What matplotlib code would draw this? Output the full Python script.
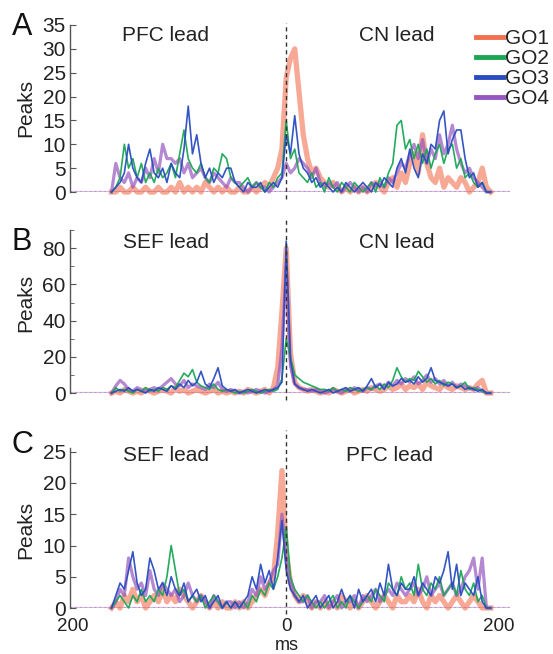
import numpy as np
import matplotlib
matplotlib.use("Agg")
import matplotlib.pyplot as plt

plt.rcParams['font.family'] = ['Liberation Sans', 'DejaVu Sans']

# bin centres (ms)
lags = np.arange(-164, 193, 4)

series_names = ["GO1", "GO2", "GO3", "GO4"]
colors = ["#f2704f", "#1aa655", "#2a4cc0", "#9656c0"]

# Panel A: PFC lead / CN lead
A_GO1 = [0,0,1,0,0,1,0,0,1,0, 0,1,0,0,1,0,2,0,1,0, 1,0,2,1,0,1,0,1,0,0,
         1,0,0,1,0,1,2,1,3,5, 9,24,28,30,21,12,7,4,5,3, 2,1,2,1,0,1,0,1,0,1,
         0,1,2,1,0,2,3,1,4,2, 6,8,4,12,6,3,2,5,1,3, 2,1,3,2,0,1,2,5,1,0]
A_GO2 = [0,1,3,10,5,7,3,6,2,4, 2,5,3,4,6,3,8,13,7,5, 4,6,3,2,5,4,8,7,3,2,
         1,2,3,1,2,1,0,2,1,3, 4,15,7,9,4,3,2,4,1,2, 0,3,1,0,2,1,0,2,1,0,
         1,2,0,3,1,4,6,14,15,9, 11,7,10,6,9,5,8,10,6,9, 10,5,7,3,4,2,1,2,0,0]
A_GO3 = [0,1,2,4,10,5,3,2,6,9, 4,3,5,2,6,4,3,9,18,8, 12,6,3,5,2,4,3,5,5,2,
         1,0,2,1,1,2,0,1,2,1, 3,12,8,16,8,5,4,2,3,1, 2,1,0,1,0,2,1,0,1,2,
         1,0,2,1,3,2,1,5,7,4, 9,5,3,8,6,10,9,15,17,8, 11,13,13,7,3,4,1,2,0,0]
A_GO4 = [0,6,3,2,4,1,3,2,5,3, 7,4,10,7,7,6,7,4,6,3, 4,5,3,2,4,3,2,1,3,2,
         2,1,0,1,2,1,1,0,1,2, 3,6,4,5,7,6,5,3,5,2, 1,2,1,2,0,1,2,1,0,1,
         0,2,1,2,1,3,2,4,6,5, 8,10,7,11,6,9,7,12,8,10, 14,9,6,4,5,3,2,1,0,0]

# Panel B: SEF lead / CN lead
B_GO1 = [0,1,0,2,1,0,1,0,2,1, 0,1,2,1,0,3,1,2,0,1, 2,1,0,1,2,0,1,0,1,0,
         1,0,2,1,0,1,2,0,3,14, 45,80,22,6,3,2,1,2,1,0, 1,0,2,1,0,1,2,0,1,2,
         1,3,2,1,2,4,2,3,5,2, 4,3,5,2,6,4,3,2,5,3, 2,4,3,2,3,2,5,7,0,0]
B_GO2 = [0,3,1,2,1,0,2,1,3,1, 2,1,3,2,4,3,7,11,9,13, 6,4,3,2,5,2,1,2,1,0,
         1,0,1,2,1,0,1,2,1,2, 8,30,20,10,8,6,5,4,3,2, 2,1,3,1,2,1,3,2,1,2,
         3,2,4,2,5,3,7,14,9,6, 8,7,12,9,6,8,5,7,4,6, 5,3,4,6,2,3,2,1,0,0]
B_GO3 = [0,1,2,1,3,1,2,1,0,2, 1,3,2,1,4,2,5,3,7,4, 6,12,5,3,8,14,4,2,1,2,
         0,1,2,1,0,1,2,1,2,3, 6,84,18,5,3,2,1,2,1,0, 1,2,0,1,2,3,1,2,3,1,
         4,8,3,5,2,6,4,5,8,6, 7,5,9,6,8,14,7,6,5,4, 5,3,4,2,3,2,1,2,0,0]
B_GO4 = [0,4,7,5,2,1,3,2,1,2, 3,2,4,6,8,5,4,7,3,5, 4,3,2,5,3,6,2,1,2,1,
         0,1,0,1,2,1,0,1,2,4, 25,70,15,5,3,2,2,1,2,1, 0,1,2,1,0,2,1,3,2,1,
         3,2,4,5,3,6,4,7,5,8, 6,9,5,7,10,6,8,5,7,4, 6,3,5,4,3,2,3,1,0,0]

# Panel C: SEF lead / PFC lead
C_GO1 = [0,1,0,2,1,3,1,2,0,1, 2,1,3,1,2,1,3,2,1,0, 1,2,1,0,1,0,1,0,0,1,
         0,1,0,1,2,3,2,4,5,12, 22,9,4,2,1,2,1,0,1,0, 1,0,1,0,2,1,0,1,0,1,
         2,1,0,1,2,1,0,2,1,1, 2,1,3,1,0,2,1,2,1,0, 1,2,1,0,1,2,1,0,0,0]
C_GO2 = [0,1,2,1,0,2,1,3,1,2, 1,3,2,5,10,6,2,3,1,2, 1,2,0,1,2,1,0,1,0,1,
         0,1,0,2,1,3,2,4,3,5, 8,13,5,3,2,1,2,1,0,1, 0,1,2,0,1,0,2,1,0,1,
         2,1,3,2,1,4,3,2,5,3, 4,2,7,3,2,4,3,5,2,3, 4,2,6,3,2,4,1,2,0,0]
C_GO3 = [0,2,4,3,6,9,4,2,3,8, 6,3,4,2,5,3,2,4,1,2, 3,1,2,0,1,2,0,1,0,1,
         0,1,2,5,3,7,4,6,3,8, 14,6,3,2,1,2,0,1,2,0, 1,2,0,1,3,1,2,0,3,1,
         2,3,1,4,2,7,3,2,4,3, 3,5,2,4,3,2,5,4,6,9, 3,7,2,4,3,2,5,1,0,0]
C_GO4 = [0,1,3,2,8,5,3,4,2,6, 3,2,4,3,2,3,1,2,4,2, 1,2,1,0,2,1,0,1,1,0,
         1,0,1,3,2,5,3,4,6,7, 15,8,4,2,1,1,2,0,1,1, 2,0,1,2,0,1,1,2,0,2,
         1,2,3,1,2,3,2,4,3,2, 3,4,2,3,5,2,3,4,2,3, 4,2,3,5,6,8,3,8,0,0]

panels = [
    dict(letter="A", data=[A_GO1, A_GO2, A_GO3, A_GO4], ylim=35, yticks=[0,5,10,15,20,25,30,35],
         minor=None, left_text="PFC lead", right_text="CN lead", text_y=32.7, right_x=104,
         rect=[0.1266, 0.7064, 0.7954, 0.2554], dash_top=1.01),
    dict(letter="B", data=[B_GO1, B_GO2, B_GO3, B_GO4], ylim=90, yticks=[0,20,40,60,80],
         minor=[10,30,50,70,90], left_text="SEF lead", right_text="CN lead", text_y=83, right_x=104,
         rect=[0.1266, 0.399, 0.7954, 0.249], dash_top=1.08),
    dict(letter="C", data=[C_GO1, C_GO2, C_GO3, C_GO4], ylim=25.6, yticks=[0,5,10,15,20,25],
         minor=None, left_text="SEF lead", right_text="PFC lead", text_y=24.4, right_x=97,
         rect=[0.1266, 1 - 608 / 654, 0.7954, 160 / 654], dash_top=1.11),
]

styles = [dict(lw=3.8, alpha=0.6, zorder=2),
          dict(lw=1.2, alpha=0.95, zorder=4),
          dict(lw=1.2, alpha=0.95, zorder=5),
          dict(lw=2.3, alpha=0.7, zorder=3)]

fig = plt.figure(figsize=(5.53, 6.54), dpi=100)
fs = 15
fs_x = 13.5
label_y = [108, 303, 530]
letter_y = [27, 242, 445]

for k, p in enumerate(panels):
    ax = fig.add_axes(p["rect"])
    ax.set_xlim(-203, 210)
    ax.set_ylim(0, p["ylim"])
    ax.axhline(0, color="#d7b6e6", lw=1.6, zorder=1)
    ax.axhline(0, color="black", lw=1.0, ls=(0, (1, 2.5)), zorder=1.5)
    handles = []
    for s, (vals, c, st) in enumerate(zip(p["data"], colors, styles)):
        h, = ax.plot(lags, vals, color=c, solid_joinstyle="round", clip_on=False,
                     label=series_names[s], **st)
        handles.append(h)
    ax.axvline(0, ymin=-0.04, ymax=p["dash_top"], color="#333333", lw=1.0,
               ls=(0, (3, 2.5)), clip_on=False, zorder=6)
    for side in ["top", "right", "bottom"]:
        ax.spines[side].set_visible(False)
    ax.spines["left"].set_color("#555555")
    ax.spines["left"].set_linewidth(1.0)
    ax.set_yticks(p["yticks"])
    if p["minor"]:
        ax.set_yticks(p["minor"], minor=True)
        ax.tick_params(axis="y", which="minor", direction="in", length=3, color="#555555")
    ax.tick_params(axis="y", which="major", direction="in", length=4, pad=3,
                   labelsize=fs, color="#555555", labelcolor="#222222")
    if k == 2:
        ax.set_xticks([-200, 0, 200])
        ax.set_xticklabels(["200", "0", "200"])
        ax.tick_params(axis="x", length=0, pad=7.5, labelsize=fs_x, labelcolor="#222222")
    else:
        ax.set_xticks([])
    ax.text(-113, p["text_y"], p["left_text"], ha="center", va="center", fontsize=fs, color="#222222")
    ax.text(p["right_x"], p["text_y"], p["right_text"], ha="center", va="center", fontsize=fs, color="#222222")
    fig.text(26 / 553, 1 - label_y[k] / 654, "Peaks", rotation=90, ha="center", va="center",
             fontsize=fs, color="#222222")
    fig.text(22 / 553, 1 - letter_y[k] / 654, p["letter"], ha="center", va="center",
             fontsize=22, color="#111111")
    if k == 0:
        leg = ax.legend(handles=handles, loc="upper left", bbox_to_anchor=(476 / 553, 1 - 29 / 654),
                        bbox_transform=fig.transFigure, frameon=False, fontsize=fs,
                        handlelength=1.3, handletextpad=0.1, labelspacing=0.05, borderpad=0,
                        borderaxespad=0)
        for lh in leg.get_lines():
            lh.set_alpha(1.0)
            lh.set_linewidth(3.5)
        for t in leg.get_texts():
            t.set_color("#222222")

fig.text(287 / 553, 0.0, "ms", ha="center", va="bottom", fontsize=13, color="#222222")

fig.savefig("out.png", dpi=100)
